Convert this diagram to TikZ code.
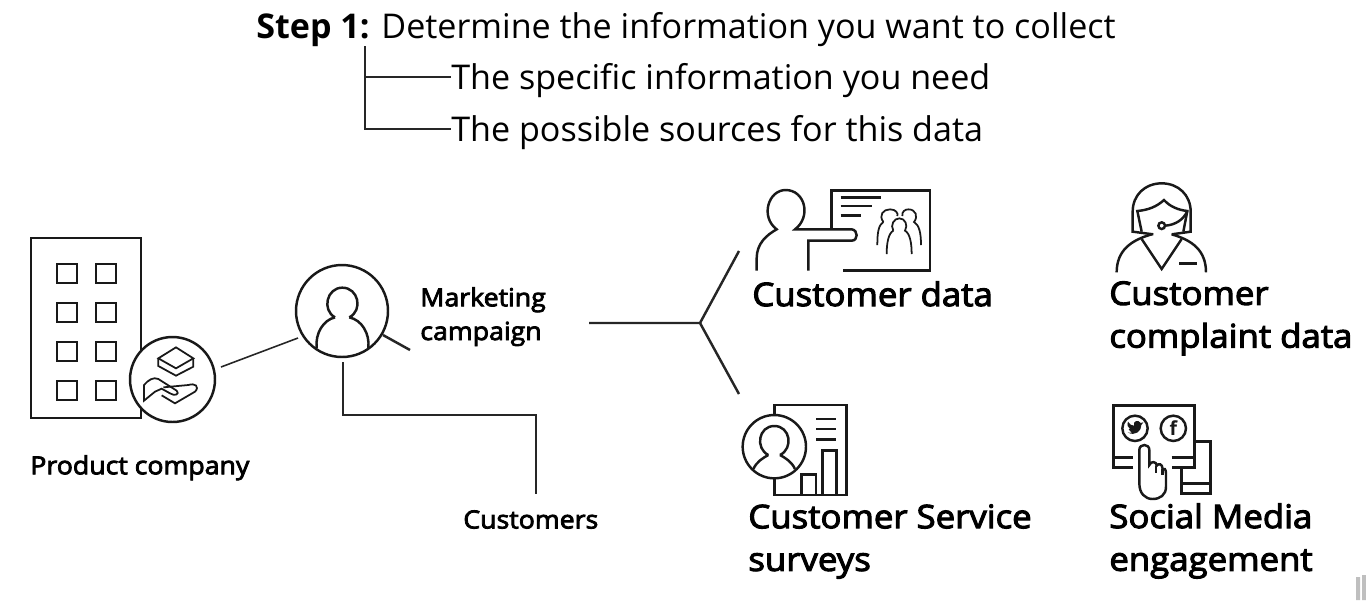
\documentclass[tikz,border=0pt]{standalone}
\usepackage{fontspec}
\setmainfont{Open Sans}
\newfontfamily\medfont[FakeBold=3.2,FakeStretch=1.07]{Open Sans}
\usetikzlibrary{positioning}
\tikzset{
  wire/.style={line width=1.4pt,black!85},
  thinwire/.style={line width=.9pt,black!85},
  icon/.style={line width=1.4pt,black!90,line join=miter},
  headtext/.style={anchor=base west,inner sep=0,font=\fontsize{19.4}{24}\selectfont},
  bigtext/.style={anchor=north west,inner sep=0,align=left,font=\medfont\fontsize{18.5}{24.3}\selectfont},
  smalltext/.style={anchor=north west,inner sep=0,align=left,font=\medfont\fontsize{14.2}{19.2}\selectfont},
  badge/.style={circle,draw,line width=1.4pt,black!90,fill=white,inner sep=0}
}
\begin{document}
\begin{tikzpicture}[x=0.02cm,y=-0.02cm]
\useasboundingbox (0,0) rectangle (1366,600);
% heading
\node[headtext] (step) at (256,38) {\textbf{Step 1:} Determine the information you want to collect};
\node[headtext] (need) at (451,89) {The specific information you need};
\node[headtext] (src) at (451,141) {The possible sources for this data};
\coordinate (treetop) at (365,46);
\draw[thinwire] (treetop) |- (need.base west |- 0,77);
\draw[thinwire] (treetop) |- (src.base west |- 0,129);
% company
\draw[icon] (31,238) rectangle (141,418);
\foreach \x in {57,96}
  \foreach \y in {264,303,342,381}
    \draw[icon] (\x,\y) rectangle ++(20,19);
\node[badge,minimum size=1.7cm] (company) at (172.5,379.5) {};
\begin{scope}[shift={(20,230)},scale=1/3,icon,line width=1pt]
\draw (468,352) -- (520,385) -- (468,415) -- (415,385) -- cycle;
\draw (415,385) -- (415,408) -- (468,437) -- (520,410) -- (520,385);
\draw (372,512) -- (372,465) .. controls (385,450) and (400,440) .. (415,447) -- (470,482) .. controls (480,492) and (465,500) .. (450,490) -- (425,476) -- (405,485) -- cycle;
\draw (430,472) -- (505,465) .. controls (525,458) and (540,470) .. (525,485) -- (465,520) -- (425,496);
\end{scope}
\node[smalltext] (prod) at (30,455) {Product company};
% agent
\node[badge,minimum size=1.84cm] (agent) at (342,311) {};
\begin{scope}[shift={(215,255)},scale=1/3,icon]
\draw (360,187) .. controls (320,165) and (335,98) .. (382,98) .. controls (430,98) and (445,165) .. (403,187);
\draw (305,280) .. controls (300,235) and (325,195) .. (360,187);
\draw (403,187) .. controls (440,195) and (465,235) .. (460,280);
\end{scope}
\coordinate (linkA) at (221,367);
\coordinate (linkB) at (298,338);
\draw[thinwire] (linkA) -- (linkB);
\coordinate (campA) at (383,335);
\coordinate (campB) at (410,350);
\draw[wire] (campA) -- (campB);
\node[smalltext] (camp) at (420,287) {Marketing\\campaign};
\coordinate (custA) at (343,362);
\node[smalltext] (cust) at (463,510) {Customers};
\coordinate (custB) at (536,494);
\draw[thinwire] (custA) |- (custB |- 0,415) -- (custB);
% branch
\coordinate (forkA) at (589,323);
\coordinate (fork) at (700,323);
\coordinate (forkB) at (739,251);
\coordinate (forkC) at (739,394);
\draw[wire] (forkA) -- (fork) -- (forkB);
\draw[wire] (fork) -- (forkC);
% customer data icon
\begin{scope}[shift={(740,180)},scale=1/3,icon]
\draw (50,272) -- (50,235) .. controls (50,190) and (80,165) .. (110,148) .. controls (60,110) and (85,30) .. (137,30) .. controls (195,30) and (215,110) .. (165,148) -- (335,148) .. controls (355,150) and (355,182) .. (335,182) -- (205,182) -- (205,272);
\draw (275,145) -- (275,32) -- (570,32) -- (570,272) -- (310,272);
\draw (302,52) -- (422,52) (302,78) -- (395,78) (302,106) -- (362,106);
\draw[line width=1pt] (430,126) .. controls (415,105) and (430,88) .. (450,88) .. controls (468,88) and (475,100) .. (472,108) (430,126) .. controls (415,135) and (412,160) .. (412,195);
\draw[line width=1pt] (487,108) .. controls (485,95) and (495,88) .. (505,88) .. controls (528,88) and (535,110) .. (522,126) .. controls (538,135) and (543,160) .. (543,195);
\draw[line width=1pt] (460,152) .. controls (450,135) and (462,115) .. (478,115) .. controls (495,115) and (505,135) .. (495,152) .. controls (510,160) and (515,190) .. (515,222) (460,152) .. controls (445,160) and (440,190) .. (440,222);
\end{scope}
\node[bigtext] (cdata) at (752,281) {Customer data};
% agent with headset
\begin{scope}[shift={(1100,175)},scale=1/3,icon]
\draw (160,178) -- (98,170) -- (98,110) .. controls (98,60) and (135,25) .. (185,25) .. controls (235,25) and (272,60) .. (272,110) -- (272,170) -- (215,178);
\draw (125,170) -- (112,108) .. controls (145,105) and (170,95) .. (192,75) .. controls (210,95) and (235,105) .. (262,108) -- (250,170);
\draw (155,178) .. controls (95,195) and (50,225) .. (50,292);
\draw (215,178) .. controls (275,195) and (318,225) .. (318,292);
\draw (125,192) -- (185,282) -- (245,192);
\draw (238,265) -- (290,265);
\draw (185,152) circle (10);
\draw (195,152) .. controls (225,150) and (250,135) .. (262,108);
\end{scope}
\node[bigtext] (cplain) at (1109,281) {Customer\\complaint data};
% survey icon
\begin{scope}[shift={(735,395)},scale=1/3,icon]
\draw (118,62) -- (118,30) -- (335,30) -- (335,300) -- (118,300) -- (118,250);
\draw (118,155) circle (95);
\draw (100,180) .. controls (60,160) and (70,93) .. (118,93) .. controls (166,93) and (176,160) .. (135,180);
\draw (55,222) .. controls (65,200) and (85,188) .. (100,180);
\draw (180,222) .. controls (170,200) and (150,188) .. (135,180);
\draw (243,72) -- (303,72) (243,102) -- (303,102) (243,133) -- (303,133);
\draw (200,300) -- (200,238) -- (243,238) -- (243,300);
\draw (263,300) -- (263,167) -- (305,167) -- (305,300);
\end{scope}
\node[bigtext] (csurvey) at (748,504) {Customer Service\\surveys};
% social icon
\begin{scope}[shift={(1100,395)},scale=1/3,icon]
\draw (100,218) -- (40,218) -- (40,32) -- (283,32) -- (283,218) -- (215,218);
\draw (40,187) -- (100,187) (215,187) -- (283,187);
\draw (283,140) -- (332,140) -- (332,295) -- (245,295) -- (245,218);
\draw (245,265) -- (332,265);
\draw (105,100) circle (38);
\draw (220,100) circle (38);
\fill (83,112) .. controls (105,125) and (125,108) .. (124,90) -- (130,82) -- (122,84) .. controls (115,72) and (98,78) .. (102,92) .. controls (95,92) and (88,88) .. (84,80) .. controls (80,90) and (84,98) .. (90,102) -- (86,102) .. controls (88,108) and (92,110) .. (96,112) .. controls (92,114) and (88,114) .. (83,112) -- cycle;
\draw (118,265) -- (118,165) .. controls (118,145) and (148,145) .. (148,165) -- (148,210) .. controls (152,198) and (170,198) .. (170,212) .. controls (175,205) and (187,205) .. (188,222) .. controls (192,218) and (198,222) .. (198,235) -- (198,275) .. controls (198,300) and (180,312) .. (158,312) .. controls (135,312) and (118,295) .. (118,265);
\draw (168,212) -- (168,235) (188,222) -- (188,240);
\node[inner sep=0,font=\bfseries\fontsize{11}{11}\selectfont] (fb) at (220,100) {f};
\end{scope}
\node[bigtext] (csocial) at (1109,503) {Social Media\\engagement};
% corner marks
\fill[black!25] (1356,577) rectangle (1360,600) (1362,575) rectangle (1366,600);
\end{tikzpicture}
\end{document}
